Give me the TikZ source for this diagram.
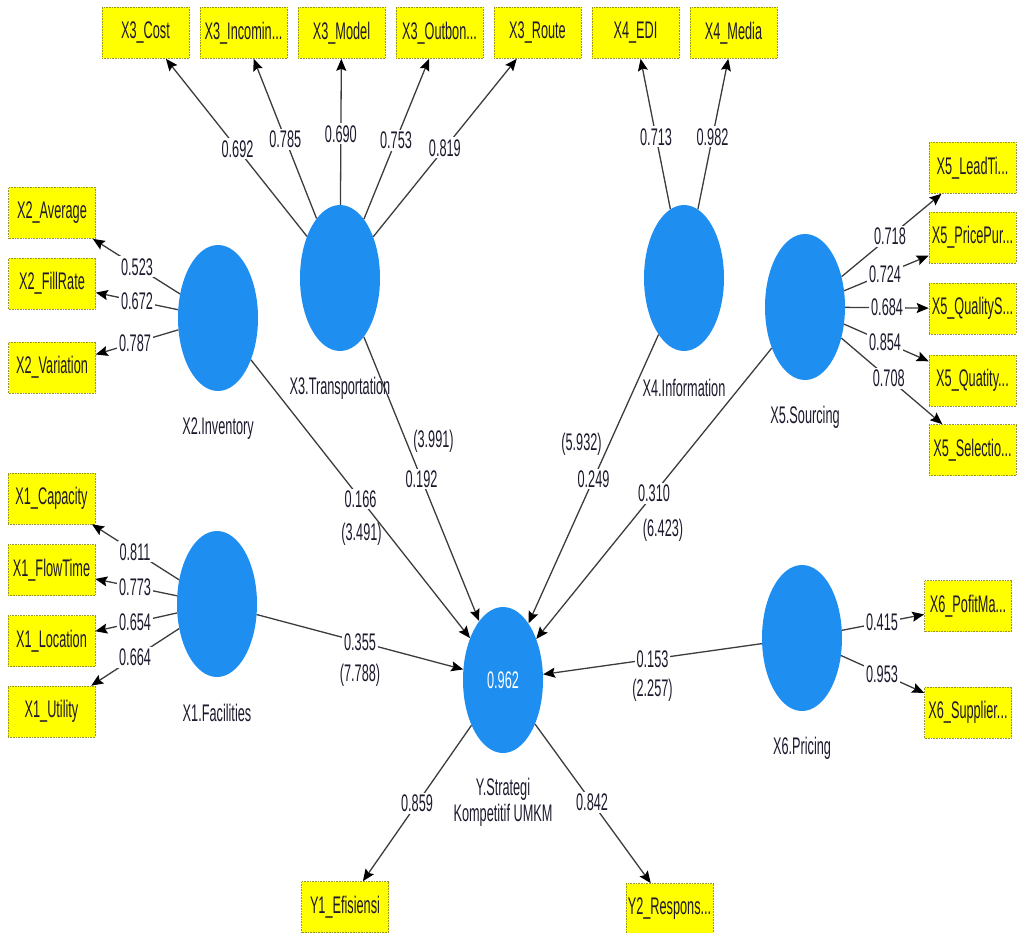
\documentclass[tikz,border=0pt]{standalone}
\usepackage{fontspec}
\setmainfont{Liberation Sans}[FakeStretch=0.53]
\usetikzlibrary{shapes.geometric,arrows.meta,calc}

\definecolor{latblue}{RGB}{30,142,240}
\definecolor{indyellow}{RGB}{255,255,0}
\definecolor{indborder}{RGB}{150,150,40}
\definecolor{edgegray}{RGB}{60,60,60}
\definecolor{txtdark}{RGB}{30,25,45}

\begin{document}
\begin{tikzpicture}[x=1pt,y=-1pt,
  font=\fontsize{24}{26}\selectfont,
  latent/.style={ellipse, fill=latblue, minimum width=80pt, minimum height=146pt, inner sep=0pt},
  indicator/.style={rectangle, fill=indyellow, draw=indborder, densely dotted, line width=0.6pt,
    minimum width=87pt, minimum height=51pt, inner sep=0pt, text=txtdark},
  link/.style={draw=edgegray, line width=1.3pt,
    -{Stealth[length=12pt,width=10pt,inset=2pt,color=black]}},
  coef/.style={fill=white, inner sep=2pt, text=txtdark},
  tval/.style={inner sep=1pt, text=txtdark},
  latname/.style={text=txtdark, inner sep=0pt, align=center},
]
\useasboundingbox (0,0) rectangle (1020,933);

% latent variables
\node[latent] (x1) at (217,604) {};
\node[latent] (x2) at (218,318) {};
\node[latent] (x3) at (340,278) {};
\node[latent] (x4) at (684,278) {};
\node[latent] (x5) at (805,307) {};
\node[latent] (x6) at (802,638) {};
\node[latent, text=white] (y) at (503,680) {0.962};

\node[latname] (x1n) at ($(x1.south)+(0,36)$) {X1.Facilities};
\node[latname] (x2n) at ($(x2.south)+(0,37)$) {X2.Inventory};
\node[latname] (x3n) at ($(x3.south)+(0,37)$) {X3.Transportation};
\node[latname] (x4n) at ($(x4.south)+(0,37)$) {X4.Information};
\node[latname] (x5n) at ($(x5.south)+(0,37)$) {X5.Sourcing};
\node[latname] (x6n) at ($(x6.south)+(0,37)$) {X6.Pricing};
\node[latname] (yn)  at ($(y.south)+(0,49)$) {Y.Strategi\\Kompetitif UMKM};

% indicators
\node[indicator] (x3a) at (145.5,33) {X3\_Cost};
\node[indicator] (x3b) at (243.5,33) {X3\_Incomin...};
\node[indicator] (x3c) at (341.5,33) {X3\_Model};
\node[indicator] (x3d) at (439.5,33) {X3\_Outbon...};
\node[indicator] (x3e) at (537.5,33) {X3\_Route};
\node[indicator] (x4a) at (635.5,33) {X4\_EDI};
\node[indicator] (x4b) at (733.5,33) {X4\_Media};

\node[indicator] (x2a) at (52,213) {X2\_Average};
\node[indicator] (x2b) at (52,283.5) {X2\_FillRate};
\node[indicator] (x2c) at (52,367.5) {X2\_Variation};

\node[indicator] (x1a) at (51.5,498.5) {X1\_Capacity};
\node[indicator] (x1b) at (51.5,570) {X1\_FlowTime};
\node[indicator] (x1c) at (51.5,641) {X1\_Location};
\node[indicator] (x1d) at (51.5,711.5) {X1\_Utility};

\node[indicator] (x5a) at (972.5,168) {X5\_LeadTi...};
\node[indicator] (x5b) at (972.5,237.5) {X5\_PricePur...};
\node[indicator] (x5c) at (972.5,308.5) {X5\_QualityS...};
\node[indicator] (x5d) at (972.5,380.5) {X5\_Quatity...};
\node[indicator] (x5e) at (972.5,450) {X5\_Selectio...};

\node[indicator] (x6a) at (968,606) {X6\_PofitMa...};
\node[indicator] (x6b) at (968,712.5) {X6\_Supplier...};

\node[indicator] (y1) at (345,907) {Y1\_Efisiensi};
\node[indicator] (y2) at (669.5,909) {Y2\_Respons...};

% outer loadings
\foreach \a/\b in {x3/x3a,x3/x3b,x3/x3c,x3/x3d,x3/x3e,x4/x4a,x4/x4b,
                   x2/x2a,x2/x2b,x2/x2c,x1/x1a,x1/x1b,x1/x1c,x1/x1d,
                   x5/x5a,x5/x5b,x5/x5c,x5/x5d,x5/x5e,x6/x6a,x6/x6b,y/y1,y/y2}
  \draw[link] (\a) -- (\b);

% structural paths
\foreach \a in {x1,x2,x3,x4,x5,x6}
  \draw[link] (\a) -- (y);

% loading values
\node[coef] (l3a) at ($(x3)!0.527!(x3a)$) {0.692};
\node[coef] (l3b) at ($(x3)!0.567!(x3b)$) {0.785};
\node[coef] (l3c) at ($(x3)!0.588!(x3c)$) {0.690};
\node[coef] (l3d) at ($(x3)!0.563!(x3d)$) {0.753};
\node[coef] (l3e) at ($(x3)!0.531!(x3e)$) {0.819};
\node[coef] (l4a) at ($(x4)!0.576!(x4a)$) {0.713};
\node[coef] (l4b) at ($(x4)!0.576!(x4b)$) {0.982};

\node[coef] (l2a) at ($(x2)!0.488!(x2a)$) {0.523};
\node[coef] (l2b) at ($(x2)!0.488!(x2b)$) {0.672};
\node[coef] (l2c) at ($(x2)!0.500!(x2c)$) {0.787};

\node[coef] (l1a) at ($(x1)!0.495!(x1a)$) {0.811};
\node[coef] (l1b) at ($(x1)!0.495!(x1b)$) {0.773};
\node[coef] (l1c) at ($(x1)!0.495!(x1c)$) {0.654};
\node[coef] (l1d) at ($(x1)!0.495!(x1d)$) {0.664};

\node[coef] (l5a) at ($(x5)!0.507!(x5a)$) {0.718};
\node[coef] (l5b) at ($(x5)!0.478!(x5b)$) {0.724};
\node[coef] (l5c) at ($(x5)!0.490!(x5c)$) {0.684};
\node[coef] (l5d) at ($(x5)!0.478!(x5d)$) {0.854};
\node[coef] (l5e) at ($(x5)!0.500!(x5e)$) {0.708};

\node[coef] (l6a) at ($(x6)!0.482!(x6a)$) {0.415};
\node[coef] (l6b) at ($(x6)!0.482!(x6b)$) {0.953};

\node[coef] (ly1) at ($(y)!0.544!(y1)$) {0.859};
\node[coef] (ly2) at ($(y)!0.535!(y2)$) {0.842};

% path coefficients with t-statistics
\node[coef] (p1) at ($(x1)!0.5!(y)$) {0.355};
\node[tval] (t1) at ($(p1)+(0,33)$) {(7.788)};
\node[coef] (p2) at ($(x2)!0.5!(y)$) {0.166};
\node[tval] (t2) at ($(p2)+(1,35)$) {(3.491)};
\node[coef] (p3) at ($(x3)!0.5!(y)$) {0.192};
\node[tval] (t3) at ($(p3)+(12,-38)$) {(3.991)};
\node[coef] (p4) at ($(x4)!0.5!(y)$) {0.249};
\node[tval] (t4) at ($(p4)+(-12,-35)$) {(5.932)};
\node[coef] (p5) at ($(x5)!0.5!(y)$) {0.310};
\node[tval] (t5) at ($(p5)+(9,37)$) {(6.423)};
\node[coef] (p6) at ($(x6)!0.5!(y)$) {0.153};
\node[tval] (t6) at ($(p6)+(0,31)$) {(2.257)};
\end{tikzpicture}
\end{document}
